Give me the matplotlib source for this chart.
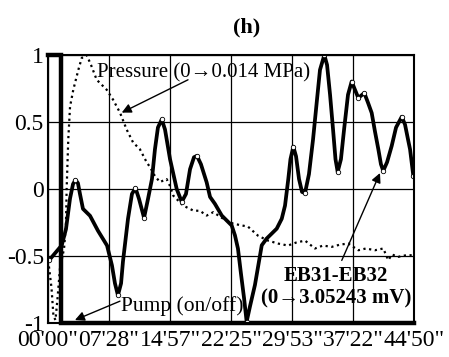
import matplotlib
matplotlib.use("Agg")
import matplotlib.pyplot as plt

plt.rcParams['font.family'] = ['Liberation Serif', 'DejaVu Serif']
plt.rcParams['axes.unicode_minus'] = False

# ---- data (time in seconds, normalised values) ----
eb_t = [7, 101, 132, 162, 184, 202, 220, 235, 257, 309, 367, 434, 470, 492, 514, 537, 551, 588,
        617, 643, 669, 706, 735, 764, 786, 808, 836, 860, 897, 946, 983, 1014, 1044, 1073, 1095,
        1124, 1166, 1191, 1227, 1277, 1350, 1374, 1396, 1418, 1441, 1460, 1485, 1521, 1571, 1607,
        1681, 1718, 1742, 1766, 1782, 1803, 1823, 1845, 1867, 1889, 1918, 1948, 1977, 1999, 2031,
        2051, 2073, 2095, 2113, 2129, 2153, 2176, 2205, 2232, 2256, 2281, 2300, 2325, 2352, 2379,
        2403, 2428, 2447, 2464, 2492, 2526, 2558, 2600, 2624, 2646, 2661, 2685]
eb_v = [-0.533, -0.42, -0.30, -0.07, 0.037, 0.067, 0.044, -0.037, -0.148, -0.2, -0.311, -0.422,
        -0.570, -0.704, -0.793, -0.704, -0.541, -0.222, -0.037, 0.007, -0.074, -0.215, -0.074,
        0.074, 0.296, 0.459, 0.519, 0.444, 0.222, 0.0, -0.096, -0.037, 0.148, 0.237, 0.247, 0.185,
        0.050, -0.059, -0.111, -0.198, -0.272, -0.346, -0.444, -0.630, -0.815, -0.99, -0.874,
        -0.716, -0.420, -0.370, -0.296, -0.222, -0.124, 0.074, 0.222, 0.316, 0.244, 0.074, -0.022,
        -0.030, 0.111, 0.370, 0.667, 0.889, 1.0, 0.926, 0.704, 0.444, 0.222, 0.128, 0.222, 0.444,
        0.704, 0.802, 0.741, 0.679, 0.696, 0.716, 0.644, 0.568, 0.430, 0.296, 0.185, 0.136, 0.2,
        0.321, 0.459, 0.539, 0.481, 0.370, 0.296, 0.099]
eb_marks = [0, 5, 14, 19, 21, 26, 30, 34, 45, 55, 59, 64, 69, 73, 75, 77, 83, 87, 91]

pr_t = [7, 26, 40, 55, 70, 88, 118, 132, 137, 149, 162, 186, 223, 248, 284, 316, 358, 431, 478,
        529, 578, 625, 676, 725, 750, 786, 823, 872, 897, 921, 994, 1068, 1117, 1166, 1215, 1288,
        1362, 1470, 1543, 1617, 1690, 1764, 1823, 1889, 1962, 2021, 2085, 2146, 2207, 2281, 2337,
        2403, 2464, 2501, 2528, 2575, 2624, 2673]
pr_v = [-0.578, -0.741, -0.948, -0.978, -0.815, -0.593, -0.444, -0.259, 0.0, 0.370, 0.615, 0.741,
        0.889, 0.978, 1.0, 0.926, 0.815, 0.741, 0.667, 0.570, 0.444, 0.348, 0.296, 0.2, 0.163,
        0.096, 0.052, 0.074, 0.022, -0.050, -0.124, -0.161, -0.163, -0.198, -0.173, -0.222,
        -0.259, -0.281, -0.348, -0.385, -0.407, -0.422, -0.4, -0.385, -0.444, -0.422, -0.432,
        -0.415, -0.407, -0.457, -0.444, -0.457, -0.444, -0.531, -0.489, -0.506, -0.496, -0.494]

pump_t = [0, 95, 95, 2690]
pump_v = [1, 1, -1, -1]

x_ticks = [0, 448.33, 896.67, 1345, 1793.33, 2241.67, 2690]
x_labels = ["00'00\"", "07'28\"", "14'57\"", "22'25\"", "29'53\"", "37'22\"", "44'50\""]
y_ticks = [-1, -0.5, 0, 0.5, 1]
y_labels = ["-1", "-0.5", "0", "0.5", "1"]

fig = plt.figure(figsize=(4.49, 3.57), dpi=100)
ax = fig.add_axes([48/449, 34/357, 366/449, 268/357])

ax.set_xlim(0, 2690)
ax.set_ylim(-1, 1)
ax.set_xticks(x_ticks)
ax.set_xticklabels(x_labels, fontsize=17)
ax.set_yticks(y_ticks)
ax.set_yticklabels(y_labels, fontsize=17)
ax.tick_params(length=0, pad=3)
ax.tick_params(axis='x', pad=5)
ax.grid(True, color='black', lw=0.9)
ax.set_axisbelow(True)
for s in ax.spines.values():
    s.set_linewidth(1.5)

ax.plot(pr_t, pr_v, color='black', lw=1.6, linestyle=(0, (1, 1.6)))
ax.plot(pump_t, pump_v, color='black', lw=3.2, solid_joinstyle='miter', clip_on=False)
ax.plot(eb_t, eb_v, color='black', lw=2.7, marker='o', markevery=eb_marks,
        markersize=3.2, markerfacecolor='white', markeredgecolor='black', markeredgewidth=0.6)

arrow = dict(arrowstyle='-|>', mutation_scale=14, lw=1.0, color='black', shrinkA=0, shrinkB=0)
ax.text(360, 0.83, "Pressure (0\u21920.014 MPa)", fontsize=15, ha='left', va='baseline')
ax.annotate("", xy=(542, 0.570), xytext=(1029, 0.815), arrowprops=arrow)
ax.text(537, -0.911, "Pump (on/off)", fontsize=15.5, ha='left', va='baseline')
ax.annotate("", xy=(198, -0.978), xytext=(529, -0.837), arrowprops=arrow)
ax.text(2117, -0.689, "EB31-EB32", fontsize=15, fontweight='bold', ha='center', va='baseline')
ax.text(2117, -0.852, "(0\u21923.05243 mV)", fontsize=15, fontweight='bold', ha='center', va='baseline')
ax.annotate("", xy=(2440, 0.119), xytext=(2159, -0.533), arrowprops=arrow)

fig.text(247/449, 1 - 27/357, "(h)", fontsize=16, fontweight='bold', ha='center', va='center')

fig.savefig("out.png", dpi=100)
